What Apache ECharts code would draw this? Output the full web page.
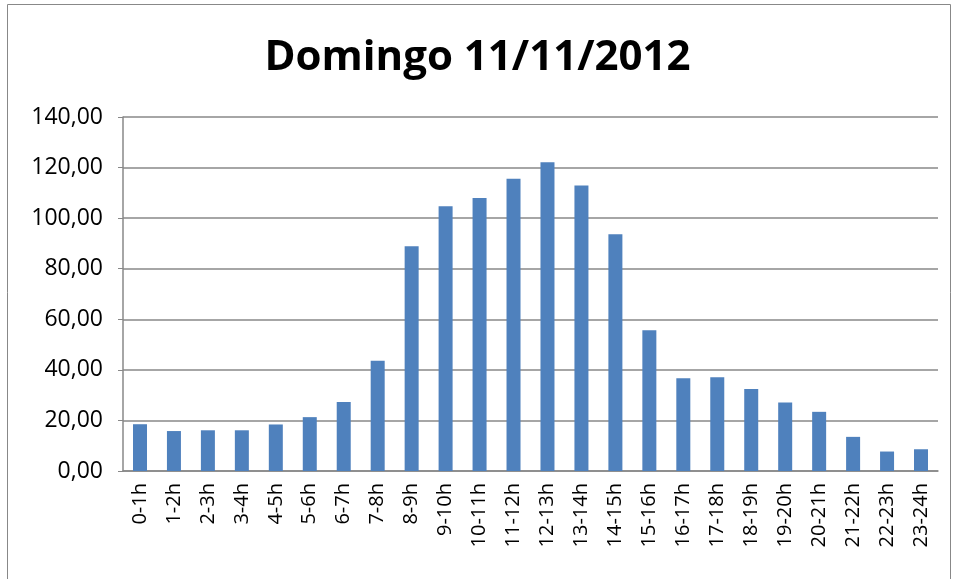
<!DOCTYPE html>
<html>
<head>
<meta charset="utf-8">
<script src="https://cdn.jsdelivr.net/npm/echarts@6/dist/echarts.min.js"></script>
<style>
  html, body { margin: 0; padding: 0; background: #fff; }
  #chart { width: 955px; height: 579px; }
</style>
</head>
<body>
<div id="chart"></div>
<script>
// horas del dia
var hours = ["0-1h", "1-2h", "2-3h", "3-4h", "4-5h", "5-6h", "6-7h", "7-8h",
  "8-9h", "9-10h", "10-11h", "11-12h", "12-13h", "13-14h", "14-15h", "15-16h",
  "16-17h", "17-18h", "18-19h", "19-20h", "20-21h", "21-22h", "22-23h", "23-24h"];
var values = [18.5, 15.8, 16.1, 16.1, 18.4, 21.3, 27.3, 43.6,
  88.9, 104.7, 108.0, 115.6, 122.1, 112.9, 93.6, 55.7,
  36.7, 37.1, 32.4, 27.1, 23.4, 13.5, 7.7, 8.6];
var yTicks = [0, 20, 40, 60, 80, 100, 120, 140];

var chart = echarts.init(document.getElementById("chart"));

var option = {
  animation: false,
  title: {
    text: "Domingo 11/11/2012",
    left: "center",
    top: 32,
    textStyle: {
      fontFamily: "Open Sans",
      fontWeight: "bold",
      fontSize: 42,
      color: "#000"
    }
  },
  graphic: [
    {
      type: "rect",
      shape: { x: 7.5, y: 4.5, width: 943, height: 590 },
      style: { fill: "none", stroke: "#888", lineWidth: 1 },
      silent: true
    }
  ],
  grid: {
    left: 123,
    right: 17,
    top: 117,
    bottom: 108
  },
  xAxis: {
    type: "category",
    data: hours,
    axisTick: { show: false },
    axisLine: { lineStyle: { color: "#888", width: 1.5 } },
    axisLabel: {
      rotate: 90,
      interval: 0,
      margin: 12,
      color: "#000",
      fontFamily: "Open Sans",
      fontSize: 20
    }
  },
  yAxis: {
    type: "value",
    min: yTicks[0],
    max: yTicks[yTicks.length - 1],
    interval: 20,
    axisLine: { show: true, lineStyle: { color: "#888", width: 1.5 } },
    axisTick: { show: true, length: 5, lineStyle: { color: "#888" } },
    splitLine: { lineStyle: { color: "#888", width: 1.5 } },
    axisLabel: {
      margin: 20,
      color: "#000",
      fontFamily: "Open Sans",
      fontSize: 23,
      formatter: function (v) {
        return v.toFixed(2).replace(".", ",");
      }
    }
  },
  series: [
    {
      type: "bar",
      data: values,
      barWidth: 14,
      itemStyle: { color: "#4f81bd" }
    }
  ]
};

chart.setOption(option);
</script>
</body>
</html>
